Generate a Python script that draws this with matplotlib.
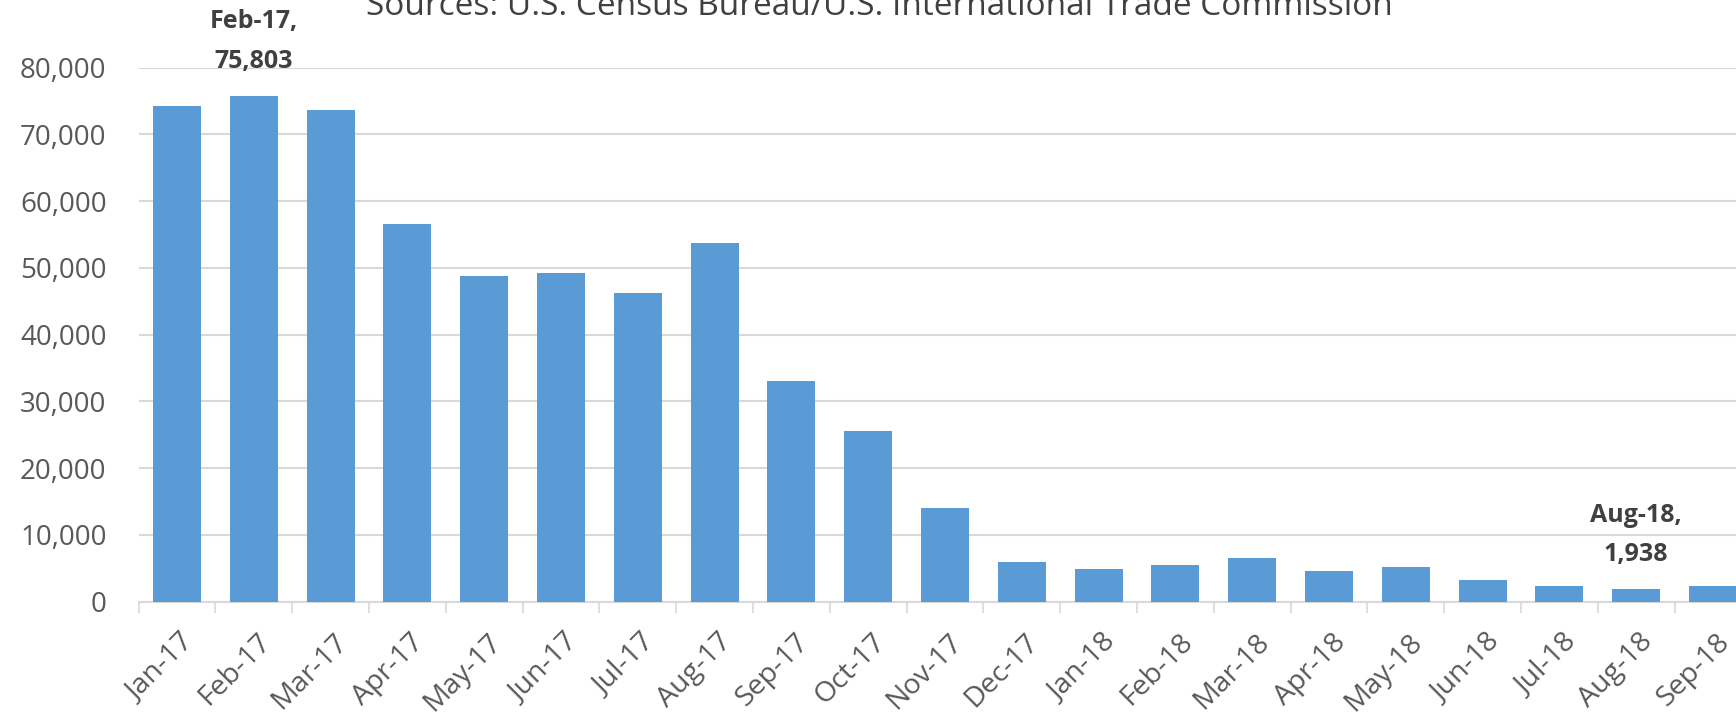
import matplotlib
matplotlib.use("Agg")
import matplotlib.pyplot as plt
from matplotlib.ticker import FuncFormatter, FixedLocator
from matplotlib.transforms import ScaledTranslation

plt.rcParams['font.family'] = ['Open Sans', 'DejaVu Sans']

# data
months = ['Jan-17', 'Feb-17', 'Mar-17', 'Apr-17', 'May-17', 'Jun-17', 'Jul-17',
          'Aug-17', 'Sep-17', 'Oct-17', 'Nov-17', 'Dec-17', 'Jan-18', 'Feb-18',
          'Mar-18', 'Apr-18', 'May-18', 'Jun-18', 'Jul-18', 'Aug-18', 'Sep-18']
values = [74250, 75803, 73600, 56600, 48850, 49200, 46250,
          53750, 33000, 25600, 14000, 5900, 4950, 5550,
          6550, 4600, 5150, 3250, 2300, 1938, 2300]
labelled = ['Feb-17', 'Aug-18']
yticks = [0, 10000, 20000, 30000, 40000, 50000, 60000, 70000, 80000]
title = 'Sources: U.S. Census Bureau/U.S. International Trade Commission'

blue = '#5B9BD5'
grid_c = '#D9D9D9'
tick_c = '#595959'
lab_c = '#404040'

fig = plt.figure(figsize=(17.36, 7.16), dpi=100)
ax = fig.add_axes([0.0798, 0.1596, 0.9202, 0.7458])

x = list(range(len(months)))
ax.bar(x, values, width=0.625, color=blue, zorder=3)

ax.set_xlim(-0.5, 20.3)
ax.set_ylim(0, 80000)

ax.set_yticks(yticks)
ax.yaxis.set_major_formatter(FuncFormatter(lambda v, p: '{:,.0f}'.format(v)))
ax.tick_params(axis='y', length=0, pad=23, labelsize=20, labelcolor=tick_c)
ax.grid(axis='y', color=grid_c, linewidth=1.5, zorder=0)

ax.set_xticks(x)
ax.set_xticklabels(months, rotation=45, ha='right', va='top',
                   rotation_mode='anchor')
ax.tick_params(axis='x', which='major', length=0, pad=19, labelsize=20.5,
               labelcolor=tick_c)
# small nudge to the right for the rotated labels
shift = ScaledTranslation(3 / 100, 0, fig.dpi_scale_trans)
for lab in ax.get_xticklabels():
    lab.set_transform(lab.get_transform() + shift)
ax.xaxis.set_minor_locator(FixedLocator([i - 0.5 for i in range(len(months) + 1)]))
ax.tick_params(axis='x', which='minor', length=8, width=1.2, color=grid_c)

for s in ['top', 'right', 'left']:
    ax.spines[s].set_visible(False)
ax.spines['bottom'].set_color(grid_c)
ax.spines['bottom'].set_linewidth(1.5)

for m in labelled:
    i = months.index(m)
    ax.annotate('{},\n{:,}'.format(m, values[i]), (i, values[i]),
                xytext=(0, 22), textcoords='offset pixels',
                ha='center', va='bottom', fontsize=18, fontweight='bold',
                color=lab_c, linespacing=1.75)

fig.text(0.5065, 1 - 15 / 716, title, ha='center', va='baseline',
         fontsize=24, color=lab_c)

fig.savefig('out.png', dpi=100)
